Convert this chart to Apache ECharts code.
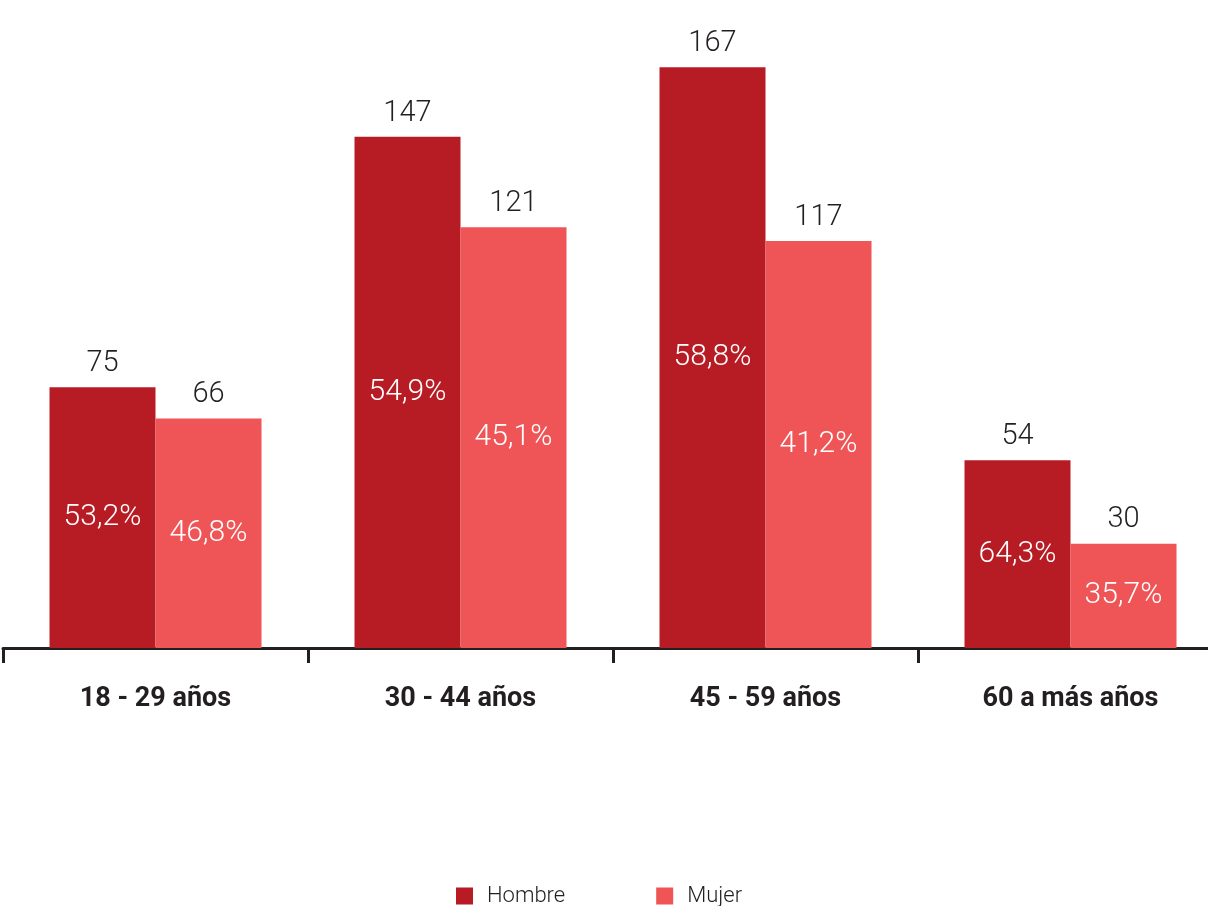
<!DOCTYPE html>
<html>
<head>
<meta charset="utf-8">
<script src="https://cdn.jsdelivr.net/npm/echarts@6/dist/echarts.min.js"></script>
<style>
  html, body { margin: 0; padding: 0; background: #fff; overflow: hidden; }
  #chart { width: 1223px; height: 906px; }
</style>
</head>
<body>
<div id="chart"></div>
<script>
var categories = ['18 - 29 años', '30 - 44 años', '45 - 59 años', '60 a más años'];
var hombre = [75, 147, 167, 54];
var mujer = [66, 121, 117, 30];
var hombrePct = ['53,2%', '54,9%', '58,8%', '64,3%'];
var mujerPct = ['46,8%', '45,1%', '41,2%', '35,7%'];

var colHombre = '#B71C24';
var colMujer = '#EF5456';
var txt = '#231F20';
var font = 'Roboto';

var valueLabel = {
  show: true,
  position: 'top',
  distance: 9,
  color: txt,
  fontFamily: font,
  fontWeight: 300,
  fontSize: 29
};

function pctLabel(arr) {
  return {
    show: true,
    position: 'inside',
    color: '#fff',
    fontFamily: font,
    fontWeight: 300,
    fontSize: 30,
    formatter: function (p) { return arr[p.dataIndex]; }
  };
}

var option = {
  backgroundColor: '#fff',
  animation: false,
  // chart div is a bit wider than the window so the last band runs off the right edge
  grid: { left: 3, right: 0, top: 22, bottom: 258, containLabel: false },
  legend: {
    data: ['Hombre', 'Mujer'],
    left: 451,
    top: 880,
    itemWidth: 17,
    itemHeight: 17,
    itemGap: 91,
    icon: 'rect',
    textStyle: { color: txt, fontFamily: font, fontSize: 22, fontWeight: 300, padding: [0, 0, 0, 9] }
  },
  xAxis: [{
    type: 'category',
    data: categories,
    axisLine: { lineStyle: { color: txt, width: 3 } },
    axisTick: { show: true, length: 15, interval: 0, lineStyle: { color: txt, width: 3 } },
    axisLabel: { color: txt, fontFamily: font, fontWeight: 'bold', fontSize: 27, margin: 38 }
  }, {
    type: 'category',
    data: categories,
    show: false
  }],
  yAxis: {
    type: 'value',
    min: 0,
    max: 180,
    show: false
  },
  series: [{
    name: 'Hombre',
    type: 'bar',
    xAxisIndex: 0,
    data: hombre,
    barWidth: 106,
    barGap: '0%',
    itemStyle: { color: colHombre },
    label: valueLabel
  }, {
    name: 'Mujer',
    type: 'bar',
    xAxisIndex: 0,
    data: mujer,
    barWidth: 106,
    barGap: '0%',
    itemStyle: { color: colMujer },
    label: valueLabel
  }, {
    name: 'pctH',
    type: 'bar',
    xAxisIndex: 1,
    data: hombre,
    barWidth: 106,
    barGap: '0%',
    z: 5,
    itemStyle: { color: 'rgba(0,0,0,0)' },
    label: pctLabel(hombrePct)
  }, {
    name: 'pctM',
    type: 'bar',
    xAxisIndex: 1,
    data: mujer,
    barWidth: 106,
    barGap: '0%',
    z: 5,
    itemStyle: { color: 'rgba(0,0,0,0)' },
    label: pctLabel(mujerPct)
  }]
};

var myChart = echarts.init(document.getElementById('chart'));
myChart.setOption(option);
window.addEventListener('resize', function () {
  myChart.resize();
});
</script>
</body>
</html>
